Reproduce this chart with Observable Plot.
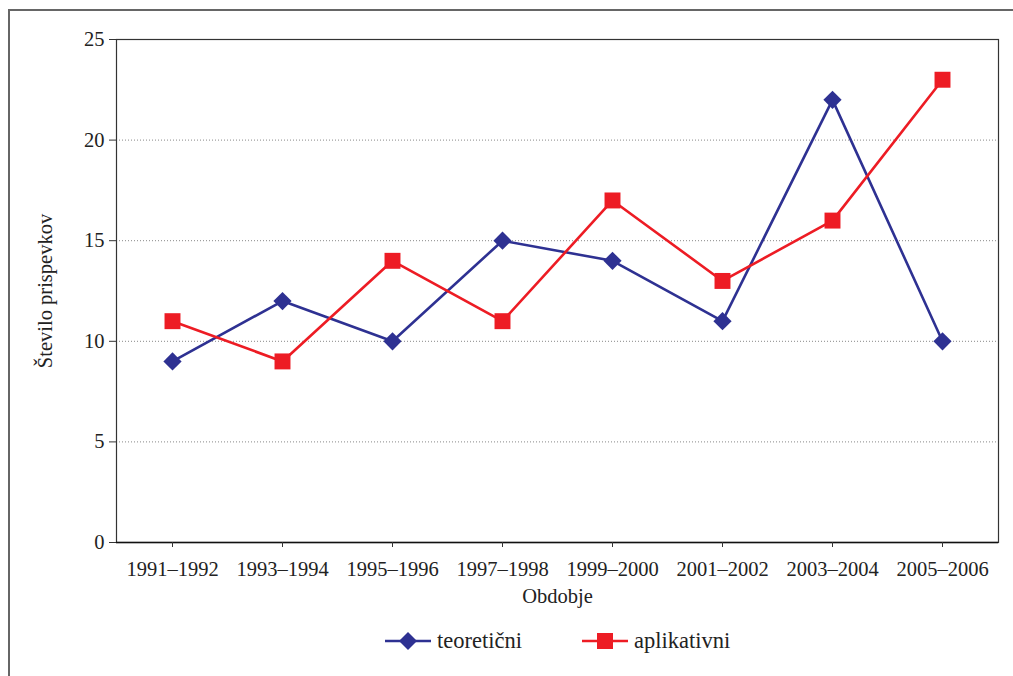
<!DOCTYPE html>
<html><head><meta charset="utf-8">
<script src="https://cdn.jsdelivr.net/npm/d3@7"></script>
<script src="https://cdn.jsdelivr.net/npm/@observablehq/plot@0.6"></script>
<style>
body{margin:0;background:#fff;font-family:"Liberation Serif","DejaVu Serif",serif;}
#wrap{position:relative;width:1013px;height:676px;overflow:hidden;}
#box{position:absolute;left:8px;top:9px;width:1100px;height:800px;border-left:2px solid #666;border-top:2px solid #666;}
#chart{position:absolute;left:0;top:0;}
#legend{position:absolute;top:627px;left:0;width:1013px;height:28px;font-size:22.5px;color:#222;}
.item{position:absolute;top:0;display:flex;align-items:center;gap:6px;}
</style></head>
<body><div id="wrap"><div id="box"></div><div id="chart"></div><div id="legend"></div></div>
<script>
const periods = ["1991–1992","1993–1994","1995–1996","1997–1998","1999–2000","2001–2002","2003–2004","2005–2006"];
const teoreticni = [9,12,10,15,14,11,22,10];
const aplikativni = [11,9,14,11,17,13,16,23];
const yTicks = [0,5,10,15,20,25];
const seriesNames = ["teoretični","aplikativni"];
const colors = ["#2e3192","#ed1c24"];

const rows = [];
periods.forEach((p,i)=>{
  rows.push({period:p, value:teoreticni[i], series:seriesNames[0]});
  rows.push({period:p, value:aplikativni[i], series:seriesNames[1]});
});
const t = rows.filter(d=>d.series===seriesNames[0]);
const a = rows.filter(d=>d.series===seriesNames[1]);

const chart = Plot.plot({
  width:1013, height:615,
  marginLeft:116, marginRight:15, marginTop:39, marginBottom:73,
  style:{fontFamily:"'Liberation Serif','DejaVu Serif',serif", fontSize:"20.5px", color:"#222", background:"transparent"},
  x:{type:"point", domain:periods, padding:0.5, label:null},
  y:{domain:[0,25], ticks:yTicks, label:null},
  marks:[
    Plot.ruleY([5,10,15,20], {stroke:"#888", strokeDasharray:"1,2", strokeWidth:1}),
    Plot.frame({stroke:"#333", strokeWidth:1.2}),
    Plot.ruleY([0], {stroke:"#111", strokeWidth:1.5}),
    Plot.axisY({ticks:yTicks, tickSize:7, tickPadding:5, fontSize:20.5, label:null, stroke:"#333"}),
    Plot.axisX({tickSize:5, tickPadding:14, fontSize:20.5, label:null, stroke:"#333"}),
    Plot.text(["Obdobje"], {frameAnchor:"bottom", dy:60, fontSize:20.5, fill:"#222"}),
    Plot.text(["Število prispevkov"], {frameAnchor:"left", dx:-71, rotate:-90, textAnchor:"middle", fontSize:20.5, fill:"#222"}),
    Plot.line(t, {x:"period", y:"value", stroke:colors[0], strokeWidth:2.6}),
    Plot.line(a, {x:"period", y:"value", stroke:colors[1], strokeWidth:2.6}),
    Plot.dot(t, {x:"period", y:"value", symbol:"diamond2", r:8.2, fill:colors[0], stroke:"none"}),
    Plot.dot(a, {x:"period", y:"value", symbol:"square", r:9, fill:colors[1], stroke:"none"})
  ]
});
document.getElementById("chart").appendChild(chart);

const leg = document.getElementById("legend");
const pos = [385, 582];
seriesNames.forEach((n,i)=>{
  const it = document.createElement("div");
  it.className="item"; it.style.left = pos[i]+"px";
  const shape = i===0
    ? `<path d="M23,5 L32,14 L23,23 L14,14 Z" fill="${colors[0]}"/>`
    : `<rect x="15" y="6" width="16" height="16" fill="${colors[1]}"/>`;
  it.innerHTML = `<svg width="46" height="28"><line x1="0" x2="46" y1="14" y2="14" stroke="${colors[i]}" stroke-width="2.6"/>${shape}</svg><span>${n}</span>`;
  leg.appendChild(it);
});
</script></body></html>
